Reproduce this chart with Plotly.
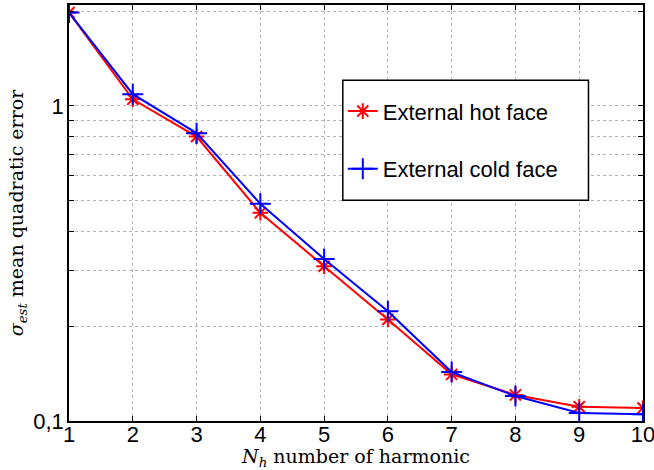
import plotly.graph_objects as go

harmonics = [1, 2, 3, 4, 5, 6, 7, 8, 9, 10]
hot_face = [1.98, 1.05, 0.80, 0.458, 0.310, 0.210, 0.1406, 0.121, 0.111, 0.110]
cold_face = [1.98, 1.09, 0.82, 0.489, 0.327, 0.223, 0.143, 0.120, 0.106, 0.105]
y_tickvals = [0.1, 0.2, 0.3, 0.4, 0.5, 0.6, 0.7, 0.8, 0.9, 1, 2]
y_ticktext = ["0,1", "", "", "", "", "", "", "", "", "1", ""]

fig = go.Figure()
fig.add_trace(go.Scatter(
    x=harmonics, y=hot_face, mode="lines+markers", name="External hot face",
    legendgroup="hot",
    line=dict(color="#ff0000", width=2),
    marker=dict(symbol="asterisk-open", size=13, color="#ff0000",
                line=dict(color="#ff0000", width=2)),
))
fig.add_trace(go.Scatter(
    x=harmonics, y=cold_face, mode="lines+markers", name="External cold face",
    legendgroup="cold",
    line=dict(color="#0000ff", width=2),
    marker=dict(symbol="cross-thin-open", size=15, color="#0000ff",
                line=dict(color="#0000ff", width=2)),
))

axis_common = dict(
    showline=True, linecolor="black", linewidth=1.5, mirror="ticks",
    ticks="inside", ticklen=5, tickcolor="black", tickwidth=1,
    showgrid=True, gridcolor="#b4b4b4", griddash="dot", gridwidth=1,
    zeroline=False, ticklabeloverflow="allow", automargin=False,
    tickfont=dict(family="Liberation Sans, Arial, sans-serif", size=22, color="black"),
)

fig.update_xaxes(
    range=[1, 10], tickvals=harmonics, ticklabelstandoff=-7,
    title=dict(text="<i>N</i><sub><i>h</i></sub> number of harmonic",
               font=dict(family="DejaVu Serif, serif", size=19, color="black"),
               standoff=8),
    **axis_common,
)
fig.update_yaxes(
    type="log", range=[-1, 0.3206], ticklabelstandoff=-1,
    tickvals=y_tickvals, ticktext=y_ticktext,
    title=dict(text="<i>σ</i><sub><i>est</i></sub> mean quadratic error",
               font=dict(family="DejaVu Serif, serif", size=19, color="black"),
               standoff=5),
    **axis_common,
)

fig.add_shape(type="rect", xref="paper", yref="paper",
              x0=0.477, x1=0.905, y0=0.5305, y1=0.819,
              line=dict(color="black", width=1.5), fillcolor="white", layer="above")

fig.update_layout(
    width=654, height=470,
    margin=dict(l=69, r=11, t=5, b=49),
    paper_bgcolor="white", plot_bgcolor="white",
    showlegend=True,
    legend=dict(x=0.477, y=0.795, xanchor="left", yanchor="top",
                bgcolor="rgba(0,0,0,0)", borderwidth=0,
                tracegroupgap=26,
                font=dict(family="Liberation Sans, Arial, sans-serif", size=22, color="black")),
)

fig.write_html("out.html")
